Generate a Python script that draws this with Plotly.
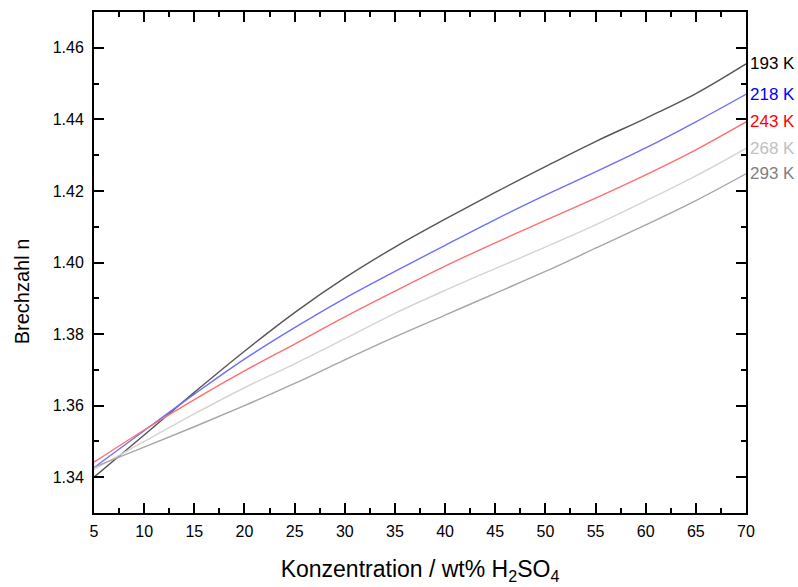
import plotly.graph_objects as go

wt = [5, 10, 15, 20, 25, 30, 35, 40, 45, 50, 55, 60, 65, 70]

n_193 = [1.3400, 1.3518, 1.3637, 1.3752, 1.3860, 1.3957, 1.4043, 1.4121, 1.4196, 1.4268, 1.4338, 1.4403, 1.4472, 1.4555]
n_218 = [1.3427, 1.3530, 1.3632, 1.3730, 1.3818, 1.3900, 1.3975, 1.4048, 1.4120, 1.4188, 1.4253, 1.4320, 1.4393, 1.4470]
n_243 = [1.3442, 1.3532, 1.3617, 1.3697, 1.3772, 1.3848, 1.3920, 1.3990, 1.4055, 1.4118, 1.4180, 1.4245, 1.4315, 1.4393]
n_268 = [1.3422, 1.3500, 1.3577, 1.3650, 1.3717, 1.3787, 1.3858, 1.3922, 1.3983, 1.4043, 1.4105, 1.4172, 1.4242, 1.4319]
n_293 = [1.3428, 1.3484, 1.3541, 1.3600, 1.3662, 1.3728, 1.3792, 1.3853, 1.3914, 1.3975, 1.4040, 1.4105, 1.4173, 1.4248]

labels = ["193 K", "218 K", "243 K", "268 K", "293 K"]
series = [n_193, n_218, n_243, n_268, n_293]
line_colors = ["#555555", "#6e6eff", "#ff6e6e", "#d4d4d4", "#a6a6a6"]
label_colors = ["#000000", "#0000ff", "#ff0000", "#c0c0c0", "#808080"]

FONT = "Liberation Sans, Arial"

fig = go.Figure()
for lab, ys, lc in zip(labels, series, line_colors):
    fig.add_trace(go.Scatter(x=wt, y=ys, mode="lines", name=lab,
                             line=dict(color=lc, width=1.4, shape="spline", smoothing=1.0)))

for lab, ys, tc in zip(labels, series, label_colors):
    fig.add_annotation(x=1, xref="paper", y=ys[-1], yref="y", text=lab,
                       showarrow=False, xanchor="left", yanchor="middle", xshift=2,
                       font=dict(family=FONT, size=17, color=tc))

# y-axis title (placed slightly below centre, as in the original)
fig.add_annotation(x=-0.110, xref="paper", y=0.443, yref="paper", text="Brechzahl n",
                   textangle=-90, showarrow=False, xanchor="center", yanchor="middle",
                   font=dict(family=FONT, size=20, color="black"))

axis_common = dict(showline=True, linecolor="black", linewidth=2, mirror="allticks",
                   ticks="inside", ticklen=10, tickwidth=2, tickcolor="black",
                   showgrid=False, zeroline=False,
                   tickfont=dict(family=FONT, size=16, color="black"))

fig.update_xaxes(range=[5, 70], dtick=5, tick0=5, ticklabelstandoff=3,
                 minor=dict(ticks="inside", ticklen=5, dtick=2.5, tickwidth=2, tickcolor="black"),
                 title=dict(text="Konzentration / wt% H<sub>2</sub>SO<sub>4</sub>",
                            font=dict(family=FONT, size=23, color="black"), standoff=22),
                 **axis_common)
fig.update_yaxes(range=[1.33, 1.47], dtick=0.02, tick0=1.34, tickformat=".2f", ticklabelstandoff=5,
                 minor=dict(ticks="inside", ticklen=5, dtick=0.01, tickwidth=2, tickcolor="black"),
                 **axis_common)

fig.update_layout(width=798, height=587, showlegend=False,
                  plot_bgcolor="white", paper_bgcolor="white",
                  margin=dict(l=94, r=52, t=12, b=74, autoexpand=False))

fig.write_html("out.html", config={"displayModeBar": False},
               post_script="document.body.style.margin='0';document.body.style.overflow='hidden';")
